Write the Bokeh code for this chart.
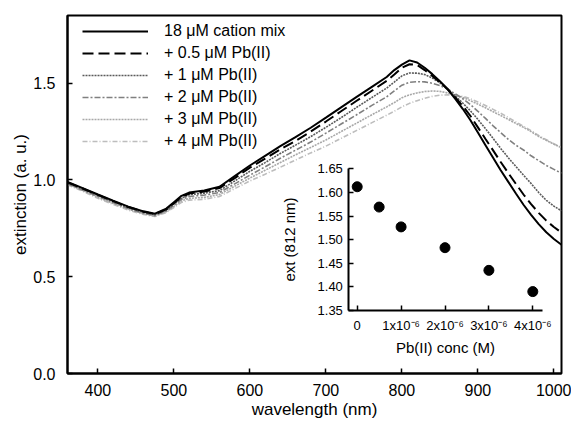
from bokeh.plotting import figure
from bokeh.models import (Range1d, LinearAxis, FixedTicker, Legend, LegendItem,
                          CustomJSTickFormatter, NumeralTickFormatter)
from bokeh.embed import file_html
from bokeh.resources import INLINE

# ---------------- data ----------------
wavelength = [360, 380, 400, 420, 440, 460, 475, 490, 500, 510, 520, 540, 560, 580,
              600, 620, 640, 660, 680, 700, 720, 740, 760, 780, 790, 800, 810, 820,
              830, 840, 850, 860, 870, 880, 890, 900, 910, 920, 930, 940, 950, 960,
              970, 980, 990, 1000, 1010]

ext_cation_mix = [0.990, 0.958, 0.925, 0.893, 0.862, 0.838, 0.826, 0.852, 0.885, 0.918,
                  0.935, 0.946, 0.965, 1.020, 1.075, 1.125, 1.175, 1.222, 1.270, 1.322,
                  1.375, 1.428, 1.480, 1.532, 1.568, 1.596, 1.618, 1.607, 1.580, 1.547,
                  1.510, 1.470, 1.420, 1.368, 1.310, 1.245, 1.180, 1.115, 1.050, 0.990,
                  0.930, 0.872, 0.820, 0.772, 0.730, 0.695, 0.665]
ext_pb_05 = [0.988, 0.956, 0.923, 0.891, 0.860, 0.836, 0.824, 0.848, 0.880, 0.912,
             0.930, 0.940, 0.958, 1.010, 1.064, 1.110, 1.158, 1.202, 1.250, 1.302,
             1.355, 1.408, 1.460, 1.512, 1.545, 1.580, 1.598, 1.595, 1.568, 1.538,
             1.505, 1.470, 1.428, 1.383, 1.332, 1.272, 1.212, 1.153, 1.093, 1.036,
             0.980, 0.925, 0.875, 0.830, 0.790, 0.757, 0.728]
ext_pb_1 = [0.985, 0.953, 0.920, 0.888, 0.857, 0.833, 0.821, 0.845, 0.876, 0.906,
            0.924, 0.932, 0.945, 0.995, 1.045, 1.090, 1.137, 1.180, 1.224, 1.272,
            1.322, 1.374, 1.425, 1.475, 1.506, 1.538, 1.553, 1.552, 1.545, 1.527,
            1.502, 1.470, 1.435, 1.398, 1.358, 1.313, 1.265, 1.215, 1.163, 1.115,
            1.070, 1.025, 0.982, 0.935, 0.895, 0.865, 0.840]
ext_pb_2 = [0.980, 0.948, 0.915, 0.883, 0.852, 0.828, 0.816, 0.840, 0.870, 0.900,
            0.915, 0.922, 0.935, 0.980, 1.025, 1.068, 1.112, 1.154, 1.196, 1.242,
            1.289, 1.336, 1.384, 1.430, 1.460, 1.490, 1.505, 1.508, 1.507, 1.500,
            1.488, 1.470, 1.446, 1.420, 1.390, 1.355, 1.318, 1.280, 1.245, 1.210,
            1.180, 1.155, 1.125, 1.100, 1.075, 1.055, 1.035]
ext_pb_3 = [0.980, 0.946, 0.910, 0.879, 0.849, 0.826, 0.814, 0.836, 0.864, 0.892,
            0.905, 0.910, 0.925, 0.968, 1.010, 1.050, 1.090, 1.130, 1.168, 1.207,
            1.250, 1.293, 1.336, 1.378, 1.400, 1.425, 1.440, 1.450, 1.457, 1.460,
            1.458, 1.450, 1.440, 1.427, 1.410, 1.392, 1.373, 1.353, 1.333, 1.313,
            1.292, 1.272, 1.250, 1.225, 1.205, 1.185, 1.167]
ext_pb_4 = [0.975, 0.942, 0.905, 0.874, 0.844, 0.822, 0.811, 0.832, 0.858, 0.884,
            0.896, 0.900, 0.915, 0.955, 0.995, 1.030, 1.066, 1.103, 1.140, 1.175,
            1.215, 1.255, 1.295, 1.335, 1.355, 1.378, 1.396, 1.410, 1.422, 1.432,
            1.438, 1.440, 1.438, 1.432, 1.420, 1.403, 1.385, 1.365, 1.345, 1.323,
            1.300, 1.278, 1.255, 1.230, 1.208, 1.187, 1.167]

series_labels = ["18 \u03bcM cation mix", "+ 0.5 \u03bcM Pb(II)", "+ 1 \u03bcM Pb(II)",
                 "+ 2 \u03bcM Pb(II)", "+ 3 \u03bcM Pb(II)", "+ 4 \u03bcM Pb(II)"]

x_ticks = [400, 500, 600, 700, 800, 900, 1000]
y_ticks = [0.0, 0.5, 1.0, 1.5]

# inset data
pb_conc = [0.0, 0.5e-6, 1.0e-6, 2.0e-6, 3.0e-6, 4.0e-6]
ext_812 = [1.612, 1.569, 1.527, 1.483, 1.435, 1.390]
inset_x_ticks = [0.0, 1e-6, 2e-6, 3e-6, 4e-6]
inset_y_ticks = [1.35, 1.40, 1.45, 1.50, 1.55, 1.60, 1.65]

# ---------------- layout ----------------
FONT = "Liberation Sans"
W, H = 571, 422
BL, BR, BT, BB = 67, 10, 15, 49
FW, FH = W - BL - BR, H - BT - BB
XMIN, XMAX = 360, 1010
YMIN, YMAX = 0.0, 1.85

p = figure(width=W, height=H,
           x_range=Range1d(XMIN, XMAX), y_range=Range1d(YMIN, YMAX),
           output_backend="svg", toolbar_location=None,
           min_border_left=BL, min_border_right=BR, min_border_top=BT, min_border_bottom=BB)
p.xgrid.visible = False
p.ygrid.visible = False
p.outline_line_color = "black"
p.outline_line_width = 2
p.outline_line_alpha = 1.0
p.background_fill_color = "white"
p.border_fill_color = "white"

xax = p.below[0]
yax = p.left[0]
for ax in (xax, yax):
    ax.axis_line_width = 2
    ax.axis_line_color = "black"
    ax.major_tick_in = 5
    ax.major_tick_out = 0
    ax.major_tick_line_width = 1.5
    ax.minor_tick_line_color = None
    ax.major_label_text_font = FONT
    ax.major_label_text_font_size = "16px"
    ax.major_label_text_color = "black"
    ax.axis_label_text_font = FONT
    ax.axis_label_text_font_size = "17px"
    ax.axis_label_text_font_style = "normal"
    ax.axis_label_text_color = "black"
xax.ticker = FixedTicker(ticks=x_ticks)
yax.ticker = FixedTicker(ticks=y_ticks)
yax.formatter = NumeralTickFormatter(format="0.0")
xax.axis_label = "wavelength (nm)"
yax.axis_label = "extinction (a. u.)"
xax.major_label_standoff = 10
xax.axis_label_standoff = 1
yax.major_label_standoff = 12
yax.axis_label_standoff = 0

styles = [
    dict(color="black", line_width=2.0, line_dash="solid"),
    dict(color="black", line_width=2.0, line_dash="11 5"),
    dict(color="#5a5a5a", line_width=1.6, line_dash="2 1"),
    dict(color="#808080", line_width=1.6, line_dash="6 2 2 2"),
    dict(color="#a8a8a8", line_width=1.6, line_dash="2 1"),
    dict(color="#bdbdbd", line_width=1.6, line_dash="5 2 1 2"),
]
all_series = [ext_cation_mix, ext_pb_05, ext_pb_1, ext_pb_2, ext_pb_3, ext_pb_4]
line_renderers = []
for ys, st in zip(all_series, styles):
    r = p.line(wavelength, ys, line_color=st["color"], line_width=st["line_width"],
               line_dash=st["line_dash"])
    line_renderers.append(r)
# draw the darker curves on top
others = [x for x in p.renderers if x not in line_renderers]
p.renderers = list(reversed(line_renderers)) + others

items = [LegendItem(label=lab, renderers=[r]) for lab, r in zip(series_labels, line_renderers)]
legend = Legend(items=items, location=(15, FH - 5 - 6 * 22), orientation="vertical",
                glyph_width=66, glyph_height=22, label_height=22, spacing=0,
                padding=0, margin=0, label_standoff=16,
                label_text_font=FONT, label_text_font_size="16px",
                label_text_color="black",
                background_fill_alpha=0, border_line_alpha=0)
p.add_layout(legend)

# ---------------- inset (via extra ranges) ----------------
# inset placement inside the frame, in pixels from frame left / frame top
ix_px0, ix_px4 = 289.7, 465.3        # where conc 0 and 4e-6 fall
iy_px135, iy_px165 = 295.0, 153.3    # where ext 1.35 and 1.65 fall
sx = (ix_px4 - ix_px0) / 4e-6
sy = (iy_px135 - iy_px165) / 0.30
ix_start = 0.0 - ix_px0 / sx
ix_end = 0.0 + (FW - ix_px0) / sx
iy_start = 1.35 - (FH - iy_px135) / sy
iy_end = 1.35 + iy_px135 / sy
p.extra_x_ranges = {"ix": Range1d(ix_start, ix_end)}
p.extra_y_ranges = {"iy": Range1d(iy_start, iy_end)}

inset_x_lo = -0.19e-6
inset_x_hi = 4.21e-6

iyax = LinearAxis(x_range_name="ix", y_range_name="iy", fixed_location=inset_x_lo,
                  bounds=(1.35, 1.65), ticker=FixedTicker(ticks=inset_y_ticks),
                  formatter=NumeralTickFormatter(format="0.00"),
                  axis_label="ext (812 nm)")
ixax = LinearAxis(x_range_name="ix", y_range_name="iy", fixed_location=1.35,
                  bounds=(inset_x_lo, inset_x_hi), ticker=FixedTicker(ticks=inset_x_ticks),
                  formatter=CustomJSTickFormatter(code="""
                      if (Math.abs(tick) < 1e-12) { return "0"; }
                      return Math.round(tick * 1e6) + "x10\u207b\u2076";
                  """),
                  axis_label="Pb(II) conc (M)")
for ax in (iyax, ixax):
    ax.axis_line_width = 2
    ax.axis_line_color = "black"
    ax.major_tick_in = 5
    ax.major_tick_out = 0
    ax.major_tick_line_width = 1.5
    ax.minor_tick_line_color = None
    ax.major_label_text_font = FONT
    ax.major_label_text_font_size = "13px"
    ax.major_label_text_color = "black"
    ax.axis_label_text_font = FONT
    ax.axis_label_text_font_size = "15px"
    ax.axis_label_text_font_style = "normal"
    ax.axis_label_text_color = "black"
iyax.major_label_standoff = 6
iyax.axis_label_standoff = 16
ixax.major_label_standoff = 7
ixax.axis_label_standoff = 3
p.add_layout(iyax, "left")
p.add_layout(ixax, "below")

p.scatter(pb_conc, ext_812, x_range_name="ix", y_range_name="iy",
          size=10, fill_color="black", line_color="black")

open("out.html", "w").write(file_html(p, INLINE))
